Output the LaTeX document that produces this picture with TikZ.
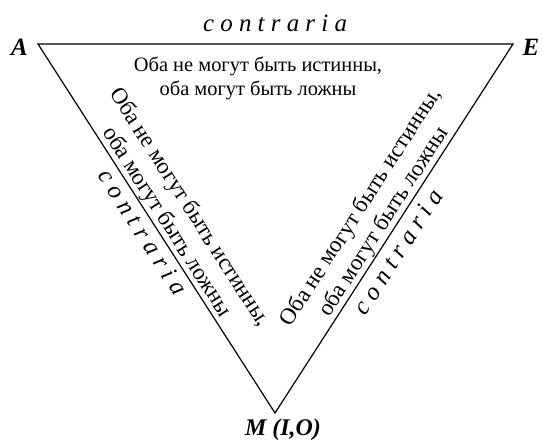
\documentclass[tikz,border=0pt]{standalone}
\usepackage{fontspec}
\setmainfont{Liberation Serif}
\begin{document}
\begin{tikzpicture}[x=1bp,y=-1bp,
  edge/.style={line width=1.2bp, line join=miter},
  vlabel/.style={font=\fontsize{25}{28}\selectfont\bfseries\itshape, inner sep=0pt},
  contr/.style={font=\fontsize{25}{28}\selectfont\itshape, inner sep=0pt},
  rus/.style={font=\fontsize{20.5}{23.5}\selectfont, align=center, inner sep=0pt},
  rusd/.style={font=\fontsize{23}{27}\selectfont, align=center, inner xsep=0pt, inner ysep=1bp},
  contrd/.style={contr, inner xsep=0pt, inner ysep=5bp}]
\useasboundingbox (0,0) rectangle (543,441);
\coordinate (a) at (38,44);
\coordinate (e) at (513,44);
\coordinate (m) at (275,413);
\draw[edge] (a) -- (e) -- (m) -- cycle;
\node[vlabel] (la) at (19.5,47) {A};
\node[vlabel] (le) at (531,47) {E};
\node[vlabel, anchor=base, font=\fontsize{24}{28}\selectfont\bfseries\itshape] (lm) at (283,435.5) {M (I,O)};
\node[contr, anchor=base] (ctop) at (275,31.7) {c o n t r a r i a};
\node[rus, anchor=north] (ttop) at (258,57) {Оба не могут быть истинны,\\оба могут быть ложны};
\path (a) -- node[sloped, pos=0.5, anchor=south, rusd] (tleft) {Оба не могут быть истинны,\\оба могут быть ложны} (m);
\path (a) -- node[sloped, pos=0.49, anchor=north, contrd] (cleft) {c o n t r a r i a} (m);
\path (m) -- node[sloped, pos=0.5, anchor=south, rusd] (tright) {Оба не могут быть истинны,\\оба могут быть ложны} (e);
\path (m) -- node[sloped, pos=0.46, anchor=north, contrd, inner ysep=7.5bp] (cright) {c o n t r a r i a} (e);
\end{tikzpicture}
\end{document}
